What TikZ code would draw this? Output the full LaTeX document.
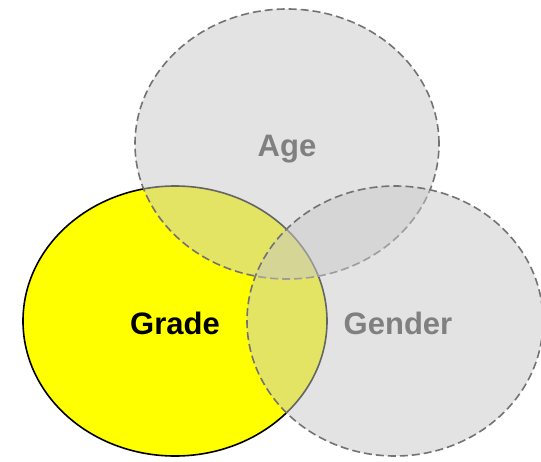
\documentclass[tikz,border=0pt]{standalone}
\usepackage{fontspec}
\setmainfont{Liberation Sans}
\usetikzlibrary{shapes.geometric, positioning}

\definecolor{gradeyellow}{RGB}{255,255,0}
\definecolor{setgray}{RGB}{200,200,200}
\definecolor{edgegray}{RGB}{115,115,115}
\definecolor{labelgray}{RGB}{128,128,128}

\begin{document}
\begin{tikzpicture}[x=1pt, y=-1pt,
                set/.style={ellipse, inner sep=0pt, minimum width=304pt, minimum height=270pt},
                main/.style={set, draw=black, line width=1.6pt, fill=gradeyellow},
                other/.style={set, draw=edgegray, line width=1.6pt,
                    dash pattern=on 8pt off 4pt, fill=setgray, fill opacity=0.5},
                setname/.style={font=\fontsize{31}{31}\selectfont\bfseries, text=labelgray}]

                \useasboundingbox (0,0) rectangle (541,461);

                \node[main] (grade) at (175,321) {};
                \node[other] (age) at (287,144) {};
                \node[other, minimum width=296pt] (gender) at (395,321) {};

                \node[setname, text=black] (gradename) at ([yshift=-2pt]grade.center) {Grade};
                \node[setname] (agename) at ([yshift=-5pt]age.center) {Age};
                \node[setname] (gendername) at ([xshift=3pt, yshift=-2pt]gender.center) {Gender};

            \end{tikzpicture}
\end{document}
